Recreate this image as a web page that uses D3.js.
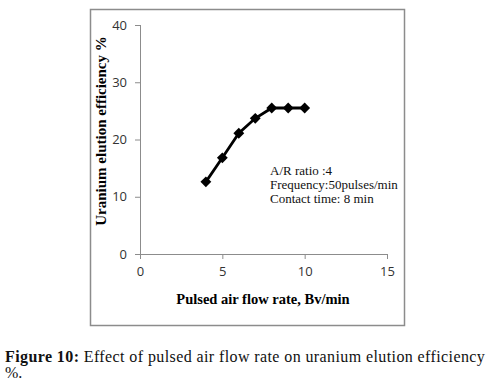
<!DOCTYPE html>
<html>
<head>
<meta charset="utf-8">
<script src="https://cdn.jsdelivr.net/npm/d3@7"></script>
<style>
  body { margin: 0; background: #fff; }
  .tick text { font-family: "Open Sans", "DejaVu Sans", sans-serif; font-size: 13px; fill: #333; }
  .serif { font-family: "Liberation Serif", "DejaVu Serif", serif; }
</style>
</head>
<body>
<div id="chart"></div>
<script>
// data
var flowRate = [4, 5, 6, 7, 8, 9, 10];
var efficiency = [12.6, 16.8, 21.1, 23.7, 25.5, 25.5, 25.5];
var xTicks = [0, 5, 10, 15];
var yTicks = [0, 10, 20, 30, 40];
var notes = ["A/R ratio :4", "Frequency:50pulses/min", "Contact time: 8 min"];

var width = 500, height = 391;

var svg = d3.select("#chart").append("svg")
  .attr("width", width)
  .attr("height", height);

/* chart frame */
svg.append("rect")
  .attr("x", 90.5).attr("y", 9.5)
  .attr("width", 314).attr("height", 316)
  .attr("fill", "none")
  .attr("stroke", "#8c8c8c")
  .attr("stroke-width", 1.5);

var x = d3.scaleLinear().domain([0, 15]).range([140, 387]);
var y = d3.scaleLinear().domain([0, 40]).range([254, 25]);

var xAxis = d3.axisBottom(x).tickValues(xTicks).tickSize(5).tickPadding(8);
var yAxis = d3.axisLeft(y).tickValues(yTicks).tickSize(5).tickPadding(8);

svg.append("g")
  .attr("class", "x axis")
  .attr("transform", "translate(0," + y(0) + ")")
  .call(xAxis)
  .call(g => g.select(".domain").remove())
  .call(g => g.selectAll(".tick line").attr("stroke", "#8c8c8c"));

svg.append("line")
  .attr("x1", x(0)).attr("x2", x(15))
  .attr("y1", y(0) + 0.5).attr("y2", y(0) + 0.5)
  .attr("stroke", "#8c8c8c");

svg.append("g")
  .attr("class", "y axis")
  .attr("transform", "translate(" + x(0) + ",0)")
  .call(yAxis)
  .call(g => g.select(".domain").remove())
  .call(g => g.selectAll(".tick line").attr("x1", 0).attr("x2", -5).attr("stroke", "#8c8c8c"));

svg.append("line")
  .attr("x1", x(0) + 0.5).attr("x2", x(0) + 0.5)
  .attr("y1", y(40)).attr("y2", y(0) + 5)
  .attr("stroke", "#8c8c8c");

/* series */
var pts = flowRate.map((d, i) => ({ x: d, y: efficiency[i] }));

var line = d3.line()
  .x(d => x(d.x))
  .y(d => y(d.y));

svg.append("path")
  .datum(pts)
  .attr("d", line)
  .attr("fill", "none")
  .attr("stroke", "#000")
  .attr("stroke-width", 2.8);

svg.selectAll(".marker")
  .data(pts).enter()
  .append("path")
  .attr("class", "marker")
  .attr("d", d3.symbol().type(d3.symbolDiamond2).size(75))
  .attr("transform", d => "translate(" + x(d.x) + "," + y(d.y) + ")")
  .attr("fill", "#000");

/* annotation */
svg.append("text")
  .attr("class", "serif")
  .attr("font-size", 13)
  .attr("fill", "#111")
  .selectAll("tspan")
  .data(notes).enter()
  .append("tspan")
  .attr("x", 270)
  .attr("y", (d, i) => 175 + i * 14)
  .text(d => d);

/* axis titles */
svg.append("text")
  .attr("class", "serif")
  .attr("font-weight", "bold")
  .attr("font-size", 14.5)
  .attr("text-anchor", "middle")
  .attr("x", 263).attr("y", 304)
  .text("Pulsed air flow rate, Bv/min");

svg.append("text")
  .attr("class", "serif")
  .attr("font-weight", "bold")
  .attr("font-size", 15)
  .attr("text-anchor", "middle")
  .attr("transform", "translate(106,131) rotate(-90)")
  .text("Uranium elution efficiency %");

/* caption */
var cap = svg.append("text")
  .attr("class", "serif")
  .attr("font-size", 16)
  .attr("letter-spacing", 0.4)
  .attr("fill", "#111")
  .attr("x", 5).attr("y", 362);
cap.append("tspan").attr("font-weight", "bold").text("Figure 10:");
cap.append("tspan").text(" Effect of pulsed air flow rate on uranium elution efficiency");
svg.append("text")
  .attr("class", "serif")
  .attr("font-size", 16)
  .attr("fill", "#111")
  .attr("x", 5).attr("y", 378)
  .text("%.");
</script>
</body>
</html>
